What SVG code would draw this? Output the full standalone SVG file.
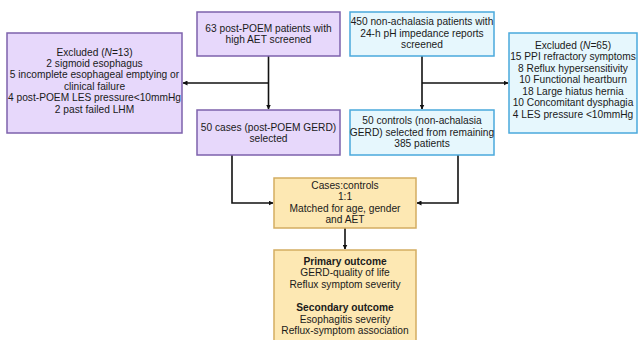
<svg xmlns="http://www.w3.org/2000/svg" width="638" height="340" viewBox="0 0 638 340">
<defs>
<style>
text{font-family:"Liberation Sans",Arial,sans-serif;font-size:10.2px;fill:#1a1a1a;text-anchor:middle}
.b{font-weight:bold}
.p{fill:#e7d8fb;stroke:#7d62ac;stroke-width:1.5}
.c{fill:#e6f7fd;stroke:#4aa9dc;stroke-width:1.5}
.y{fill:#fde8b3;stroke:#d3ad62;stroke-width:1.5}
.ln{fill:none;stroke:#111;stroke-width:1.6}
</style>
<marker id="ah" viewBox="0 0 10 10" refX="9" refY="5" markerWidth="5" markerHeight="5" orient="auto" markerUnits="userSpaceOnUse">
<path d="M0,0 L10,5 L0,10 z" fill="#111"/>
</marker>
</defs>
<rect width="638" height="340" fill="#fff"/>
<g id="connectors">
<path class="ln" d="M268.5,56 V109" marker-end="url(#ah)"/>
<path class="ln" d="M268.5,83 H183" marker-end="url(#ah)"/>
<path class="ln" d="M422,56 V109" marker-end="url(#ah)"/>
<path class="ln" d="M422,83 H508" marker-end="url(#ah)"/>
<path class="ln" d="M232,155 V203 H273" marker-end="url(#ah)"/>
<path class="ln" d="M458,155 V203 H417" marker-end="url(#ah)"/>
<path class="ln" d="M345,228 V249" marker-end="url(#ah)"/>
</g>
<g id="excluded-left">
<rect class="p" x="7" y="33" width="175" height="100"/>
<text x="94.5" y="55.5">Excluded (<tspan font-style="italic">N</tspan>=13)</text>
<text x="94.5" y="66.9">2 sigmoid esophagus</text>
<text x="94.5" y="78.3">5 incomplete esophageal emptying or</text>
<text x="94.5" y="89.7">clinical failure</text>
<text x="94.5" y="101.1">4 post-POEM LES pressure&lt;10mmHg</text>
<text x="94.5" y="112.5">2 past failed LHM</text>
</g>
<g id="post-poem">
<rect class="p" x="197" y="12" width="143" height="44"/>
<text x="268.5" y="31.5">63 post-POEM patients with</text>
<text x="268.5" y="43">high AET screened</text>
</g>
<g id="non-achalasia">
<rect class="c" x="350" y="12" width="144" height="44"/>
<text x="422" y="25">450 non-achalasia patients with</text>
<text x="422" y="36.6">24-h pH impedance reports</text>
<text x="422" y="48.2">screened</text>
</g>
<g id="excluded-right">
<rect class="c" x="509" y="33" width="128" height="100"/>
<text x="573" y="48.6">Excluded (<tspan font-style="italic">N</tspan>=65)</text>
<text x="573" y="60.1">15 PPI refractory symptoms</text>
<text x="573" y="71.6">8 Reflux hypersensitivity</text>
<text x="573" y="83.1">10 Functional heartburn</text>
<text x="573" y="94.6">18 Large hiatus hernia</text>
<text x="573" y="106.1">10 Concomitant dysphagia</text>
<text x="573" y="117.6">4 LES pressure &lt;10mmHg</text>
</g>
<g id="cases">
<rect class="p" x="197" y="110" width="143" height="45"/>
<text x="268.5" y="130.5">50 cases (post-POEM GERD)</text>
<text x="268.5" y="142">selected</text>
</g>
<g id="controls">
<rect class="c" x="350" y="110" width="144" height="45"/>
<text x="422" y="124">50 controls (non-achalasia</text>
<text x="422" y="135.5">GERD) selected from remaining</text>
<text x="422" y="147">385 patients</text>
</g>
<g id="matching">
<rect class="y" x="274" y="178" width="142" height="50"/>
<text x="345" y="188.6">Cases:controls</text>
<text x="345" y="200.2">1:1</text>
<text x="345" y="211.8">Matched for age, gender</text>
<text x="345" y="223.4">and AET</text>
</g>
<g id="outcomes">
<rect class="y" x="274" y="250" width="142" height="100"/>
<text class="b" x="345" y="264.6">Primary outcome</text>
<text x="345" y="276.2">GERD-quality of life</text>
<text x="345" y="287.8">Reflux symptom severity</text>
<text class="b" x="345" y="311">Secondary outcome</text>
<text x="345" y="322.6">Esophagitis severity</text>
<text x="345" y="334.2">Reflux-symptom association</text>
</g>
</svg>
